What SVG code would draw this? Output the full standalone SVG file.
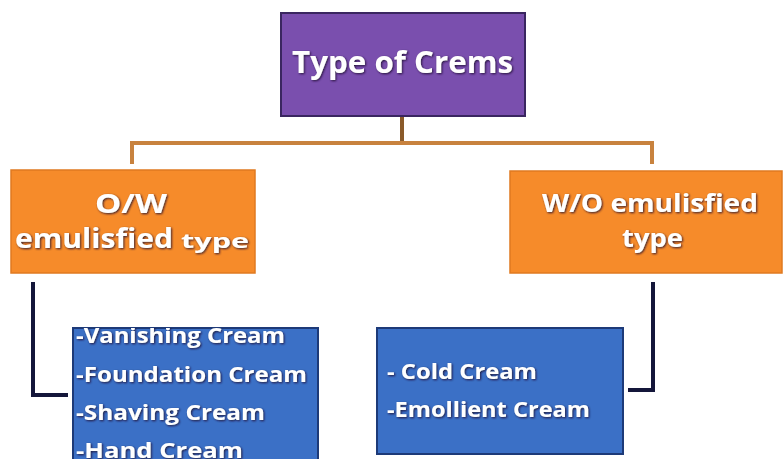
<svg xmlns="http://www.w3.org/2000/svg" width="784" height="459" viewBox="0 0 784 459">
<defs>
<filter id="sh" x="-10%" y="-30%" width="120%" height="160%">
<feDropShadow dx="1" dy="1" stdDeviation="1" flood-color="#1a1030" flood-opacity="0.9"/>
</filter>
<clipPath id="clipL"><rect x="73" y="328" width="245" height="131"/></clipPath>
</defs>
<style>
.t{font-family:"Open Sans","Liberation Sans",sans-serif;font-weight:bold;fill:#fff;filter:url(#sh)}
.org{fill:#f68b2a;stroke:#e07a20;stroke-width:1.5}
.blu{fill:#3b70c6;stroke:#1d3a78;stroke-width:2}
.oc{fill:none;stroke:#c8823e;stroke-width:4}
.nc{fill:none;stroke:#14163a;stroke-width:4}
</style>
<rect width="784" height="459" fill="#ffffff"/>
<g id="connectors">
<line x1="402" y1="117" x2="402" y2="143" stroke="#8a5a2a" stroke-width="4"/>
<path class="oc" d="M132,164 V143 H652 V164"/>
<path class="nc" d="M33,282 V395 H68"/>
<path class="nc" d="M653,282 V390 H628"/>
</g>
<g id="root">
<rect x="281" y="13" width="244" height="103" fill="#7a4fae" stroke="#3a2660" stroke-width="2"/>
<text class="t" x="292" y="73" font-size="31" textLength="221" lengthAdjust="spacingAndGlyphs">Type of Crems</text>
</g>
<g id="ow">
<rect class="org" x="11" y="170" width="244" height="103"/>
<text class="t" x="95" y="213" font-size="27" textLength="72" lengthAdjust="spacingAndGlyphs">O/W</text>
<text class="t" x="15" y="248" font-size="26" textLength="158" lengthAdjust="spacingAndGlyphs">emulisfied</text>
<text class="t" x="181" y="248" font-size="20" textLength="68" lengthAdjust="spacingAndGlyphs">type</text>
</g>
<g id="wo">
<rect class="org" x="510" y="171" width="272" height="102"/>
<text class="t" x="542" y="212" font-size="25" textLength="216" lengthAdjust="spacingAndGlyphs">W/O emulisfied</text>
<text class="t" x="622" y="247" font-size="25" textLength="61" lengthAdjust="spacingAndGlyphs">type</text>
</g>
<g id="owlist">
<rect class="blu" x="73" y="328" width="245" height="135"/>
<g clip-path="url(#clipL)">
<text class="t" x="76" y="343" font-size="21" textLength="209" lengthAdjust="spacingAndGlyphs">-Vanishing Cream</text>
<text class="t" x="76" y="382" font-size="21" textLength="231" lengthAdjust="spacingAndGlyphs">-Foundation Cream</text>
<text class="t" x="76" y="420" font-size="21" textLength="189" lengthAdjust="spacingAndGlyphs">-Shaving Cream</text>
<text class="t" x="76" y="458" font-size="21" textLength="167" lengthAdjust="spacingAndGlyphs">-Hand Cream</text>
</g>
</g>
<g id="wolist">
<rect class="blu" x="377" y="328" width="246" height="126"/>
<text class="t" x="387" y="379" font-size="21" textLength="150" lengthAdjust="spacingAndGlyphs">- Cold Cream</text>
<text class="t" x="387" y="417" font-size="21" textLength="203" lengthAdjust="spacingAndGlyphs">-Emollient Cream</text>
</g>
</svg>
